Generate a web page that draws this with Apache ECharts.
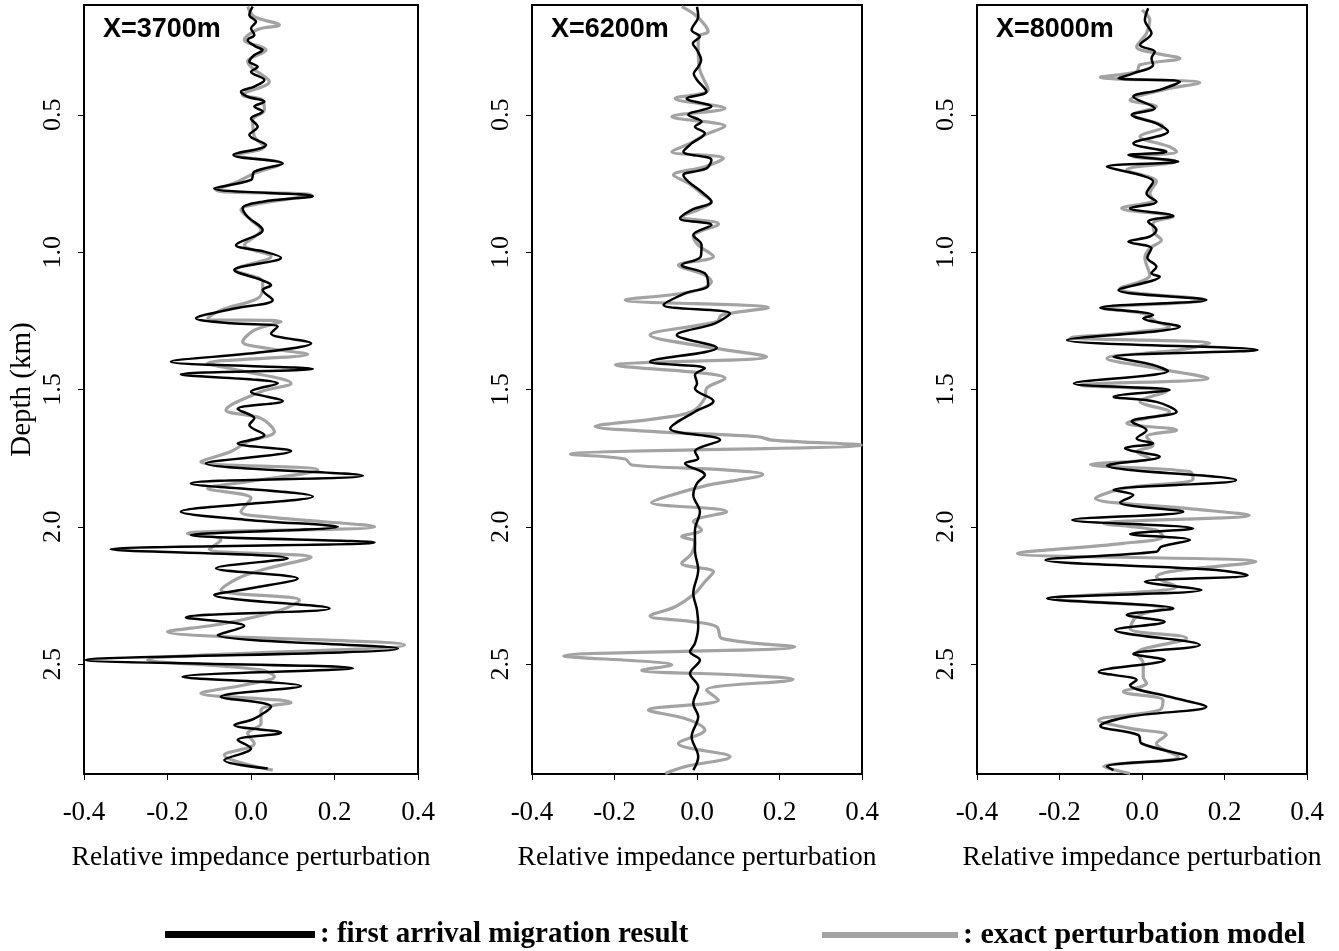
<!DOCTYPE html>
<html>
<head>
<meta charset="utf-8">
<script src="https://cdn.jsdelivr.net/npm/echarts@6/dist/echarts.min.js"></script>
<style>
html,body{margin:0;padding:0;background:#fff;}
#chart{width:1339px;height:951px;}
</style>
</head>
<body>
<div id="chart"></div>
<script>
// ---- data: [relative impedance perturbation, depth km] ----
const panelTitles = ['X=3700m', 'X=6200m', 'X=8000m'];
const xTicks = [-0.4, -0.2, 0.0, 0.2, 0.4];
const depthTicks = [0.5, 1.0, 1.5, 2.0, 2.5];
const nameMigration = 'first arrival migration result';
const nameExact = 'exact perturbation model';

const p1Black = [[0.004,0.106],[-0.004,0.136],[0.012,0.161],[0.0,0.185],[0.008,0.209],[-0.008,0.227],[0.012,0.252],[0.028,0.264],[0.008,0.282],[-0.004,0.306],[0.016,0.325],[0.0,0.343],[0.032,0.373],[0.008,0.397],[-0.024,0.416],[-0.008,0.434],[0.032,0.452],[0.008,0.470],[0.028,0.488],[0.0,0.513],[0.016,0.543],[-0.004,0.573],[0.036,0.61],[-0.042,0.646],[0.076,0.677],[0.008,0.707],[0.0,0.737],[-0.088,0.768],[0.148,0.796],[0.028,0.816],[-0.02,0.84],[-0.008,0.871],[0.028,0.919],[-0.036,0.974],[0.032,0.998],[0.072,1.02],[-0.04,1.065],[0.024,1.101],[0.048,1.12],[0.028,1.138],[0.052,1.174],[-0.04,1.205],[-0.132,1.241],[-0.048,1.259],[0.064,1.271],[0.048,1.296],[0.144,1.332],[0.04,1.362],[-0.192,1.399],[0.148,1.425],[-0.168,1.445],[0.064,1.478],[0.0,1.508],[0.076,1.542],[-0.032,1.571],[0.008,1.605],[-0.004,1.629],[0.032,1.666],[-0.032,1.696],[0.096,1.724],[-0.108,1.769],[0.268,1.814],[-0.144,1.842],[0.148,1.89],[-0.168,1.945],[-0.008,1.975],[0.208,2.0],[-0.144,2.03],[0.296,2.057],[-0.336,2.082],[0.088,2.115],[-0.084,2.151],[0.112,2.188],[0.0,2.224],[-0.088,2.248],[0.188,2.297],[-0.156,2.33],[-0.016,2.361],[-0.08,2.394],[0.352,2.443],[-0.396,2.485],[0.244,2.515],[-0.164,2.546],[0.12,2.58],[-0.072,2.619],[0.048,2.655],[0.008,2.698],[-0.04,2.722],[0.072,2.75],[-0.032,2.776],[0.0,2.807],[-0.064,2.849],[0.04,2.88]];

const p1Gray = [[-0.008,0.106],[0.008,0.142],[0.068,0.173],[0.016,0.189],[-0.016,0.227],[0.036,0.264],[-0.008,0.306],[0.004,0.331],[0.044,0.379],[-0.02,0.428],[0.028,0.446],[0.032,0.482],[0.004,0.519],[0.008,0.579],[0.032,0.616],[-0.032,0.646],[0.072,0.677],[0.008,0.713],[-0.032,0.743],[-0.084,0.774],[0.144,0.792],[0.024,0.822],[-0.024,0.846],[0.0,0.883],[0.024,0.919],[-0.016,0.974],[0.048,1.016],[-0.036,1.065],[0.028,1.107],[0.028,1.132],[0.016,1.168],[-0.072,1.211],[-0.104,1.241],[0.072,1.253],[0.008,1.284],[-0.02,1.326],[0.04,1.35],[0.136,1.372],[-0.104,1.405],[-0.032,1.429],[0.096,1.478],[0.024,1.508],[-0.06,1.575],[0.024,1.605],[0.056,1.654],[-0.008,1.69],[-0.048,1.726],[-0.12,1.763],[0.16,1.793],[-0.008,1.836],[-0.104,1.86],[0.0,1.896],[-0.024,1.945],[0.032,1.963],[0.296,2.0],[-0.152,2.024],[-0.072,2.048],[-0.1,2.082],[0.144,2.111],[0.04,2.151],[-0.032,2.188],[-0.072,2.23],[0.116,2.267],[0.072,2.303],[-0.064,2.352],[-0.2,2.382],[0.368,2.43],[-0.248,2.485],[0.024,2.521],[0.056,2.546],[-0.016,2.576],[-0.12,2.606],[0.096,2.64],[0.024,2.667],[0.024,2.716],[-0.008,2.752],[0.008,2.789],[-0.064,2.831],[0.052,2.886]];

const p2Black = [[0.0,0.106],[0.003,0.142],[-0.013,0.191],[0.007,0.215],[-0.01,0.24],[0.0,0.264],[0.01,0.3],[0.003,0.325],[-0.008,0.35],[0.0,0.373],[0.023,0.416],[-0.025,0.44],[0.035,0.47],[-0.021,0.5],[0.011,0.525],[-0.005,0.543],[0.019,0.567],[-0.013,0.604],[-0.033,0.634],[0.035,0.664],[0.023,0.695],[-0.033,0.719],[-0.021,0.743],[0.011,0.78],[0.035,0.816],[-0.013,0.846],[-0.041,0.877],[0.035,0.901],[-0.009,0.937],[0.011,0.974],[0.009,1.016],[-0.037,1.047],[0.019,1.077],[0.027,1.12],[-0.029,1.15],[-0.081,1.192],[0.08,1.223],[0.044,1.259],[-0.049,1.302],[0.048,1.348],[-0.114,1.399],[0.019,1.423],[-0.005,1.447],[0.0,1.478],[-0.005,1.496],[0.04,1.542],[-0.005,1.581],[-0.065,1.642],[0.056,1.684],[-0.005,1.726],[0.003,1.751],[-0.029,1.769],[0.019,1.811],[0.0,1.842],[-0.009,1.884],[0.007,1.945],[-0.005,2.012],[-0.005,2.085],[0.003,2.157],[-0.009,2.242],[0.0,2.303],[0.003,2.364],[-0.005,2.424],[-0.017,2.455],[0.007,2.485],[-0.017,2.534],[0.003,2.582],[-0.009,2.643],[0.003,2.691],[-0.013,2.764],[0.003,2.837],[-0.009,2.886]];

const p2Gray = [[-0.037,0.106],[0.0,0.142],[0.027,0.197],[0.003,0.215],[0.003,0.264],[0.007,0.337],[0.027,0.409],[-0.053,0.44],[0.068,0.476],[-0.061,0.507],[0.068,0.541],[0.019,0.573],[-0.017,0.604],[-0.061,0.634],[0.064,0.658],[0.019,0.689],[-0.057,0.719],[-0.021,0.749],[0.011,0.786],[0.035,0.816],[0.003,0.846],[-0.037,0.871],[0.052,0.897],[-0.009,0.943],[0.003,0.974],[0.04,1.016],[-0.045,1.047],[0.019,1.083],[0.035,1.107],[-0.013,1.144],[-0.174,1.174],[0.173,1.202],[0.06,1.229],[0.048,1.253],[-0.114,1.302],[0.019,1.344],[0.169,1.381],[-0.198,1.411],[0.019,1.441],[0.068,1.459],[0.023,1.496],[0.019,1.532],[-0.013,1.581],[-0.094,1.605],[-0.247,1.635],[-0.094,1.654],[0.148,1.672],[0.181,1.684],[0.398,1.702],[-0.307,1.736],[-0.174,1.753],[-0.158,1.775],[0.068,1.793],[0.16,1.809],[0.027,1.848],[-0.061,1.884],[-0.11,1.911],[0.072,1.945],[-0.009,1.981],[0.011,2.012],[-0.037,2.036],[-0.005,2.054],[-0.013,2.097],[-0.037,2.133],[0.04,2.164],[0.019,2.2],[-0.005,2.242],[-0.053,2.291],[-0.114,2.325],[-0.013,2.345],[0.048,2.364],[0.06,2.406],[0.237,2.437],[-0.323,2.47],[-0.061,2.503],[-0.134,2.522],[0.108,2.54],[0.233,2.556],[0.023,2.594],[0.052,2.631],[-0.118,2.667],[-0.029,2.698],[0.019,2.74],[-0.045,2.789],[0.08,2.837],[-0.029,2.873],[-0.077,2.898]];

const p3Black = [[0.015,0.112],[0.007,0.155],[0.023,0.203],[-0.005,0.246],[0.031,0.27],[0.023,0.294],[0.027,0.318],[-0.021,0.349],[-0.057,0.367],[0.092,0.379],[0.043,0.409],[-0.021,0.434],[0.031,0.476],[-0.025,0.5],[0.035,0.531],[0.063,0.561],[-0.021,0.604],[0.059,0.634],[-0.033,0.646],[0.088,0.67],[-0.085,0.689],[-0.005,0.719],[0.027,0.743],[0.011,0.786],[0.035,0.816],[-0.029,0.84],[0.076,0.868],[0.015,0.889],[0.035,0.919],[0.019,0.943],[-0.033,0.962],[0.023,0.986],[0.013,1.02],[0.035,1.053],[0.023,1.077],[0.043,1.089],[-0.057,1.138],[0.156,1.174],[-0.101,1.202],[0.027,1.229],[0.003,1.241],[0.092,1.271],[-0.182,1.32],[0.28,1.356],[-0.069,1.381],[0.027,1.411],[0.063,1.433],[-0.165,1.478],[0.067,1.502],[-0.069,1.526],[0.035,1.545],[0.084,1.581],[-0.025,1.617],[0.011,1.648],[-0.013,1.678],[0.027,1.696],[-0.041,1.714],[0.043,1.745],[-0.085,1.777],[0.228,1.83],[-0.069,1.866],[-0.021,1.884],[-0.053,1.911],[0.1,1.945],[-0.169,1.975],[0.124,2.006],[-0.029,2.026],[0.116,2.048],[0.047,2.072],[0.035,2.091],[-0.234,2.121],[0.18,2.157],[0.256,2.176],[0.007,2.2],[0.144,2.23],[-0.23,2.261],[0.076,2.297],[-0.037,2.321],[0.055,2.346],[-0.065,2.376],[0.14,2.43],[-0.021,2.463],[0.055,2.485],[-0.105,2.528],[-0.013,2.558],[-0.029,2.576],[0.067,2.619],[0.156,2.655],[-0.029,2.691],[-0.101,2.725],[-0.009,2.758],[-0.001,2.789],[0.108,2.837],[-0.085,2.873],[-0.069,2.886]];

const p3Gray = [[0.0,0.118],[0.019,0.155],[0.011,0.203],[-0.013,0.252],[0.035,0.276],[0.092,0.294],[-0.005,0.318],[-0.013,0.343],[-0.101,0.363],[0.14,0.383],[0.051,0.409],[-0.029,0.446],[0.035,0.47],[-0.021,0.5],[0.051,0.543],[-0.005,0.579],[0.067,0.616],[0.084,0.634],[-0.021,0.652],[0.084,0.67],[-0.037,0.701],[0.035,0.743],[0.019,0.786],[0.027,0.81],[-0.049,0.84],[0.076,0.871],[0.027,0.895],[0.031,0.931],[0.047,0.956],[0.019,0.986],[0.007,1.02],[0.019,1.083],[-0.053,1.132],[0.148,1.174],[-0.093,1.205],[0.003,1.223],[0.035,1.253],[0.067,1.271],[-0.053,1.296],[-0.173,1.311],[0.164,1.332],[0.092,1.356],[-0.085,1.387],[0.035,1.423],[0.16,1.459],[-0.149,1.484],[0.059,1.508],[-0.005,1.544],[0.067,1.581],[-0.037,1.623],[0.084,1.648],[0.011,1.672],[0.027,1.702],[-0.013,1.726],[0.019,1.751],[-0.125,1.773],[0.116,1.799],[0.124,1.826],[-0.045,1.86],[-0.113,1.896],[0.108,1.933],[0.26,1.958],[-0.093,1.988],[0.035,2.012],[0.051,2.036],[-0.045,2.06],[-0.302,2.097],[0.276,2.127],[0.067,2.163],[0.035,2.182],[0.084,2.218],[-0.205,2.261],[0.051,2.297],[-0.013,2.327],[-0.029,2.37],[0.108,2.406],[-0.013,2.461],[0.003,2.497],[0.003,2.546],[0.011,2.57],[-0.045,2.6],[0.051,2.631],[0.043,2.667],[-0.105,2.704],[-0.029,2.734],[0.059,2.758],[0.035,2.789],[0.088,2.837],[-0.093,2.873],[-0.029,2.898]];

const blackSeries = [p1Black, p2Black, p3Black];
const graySeries = [p1Gray, p2Gray, p3Gray];

// ---- layout / style ----
const SERIF = "'Liberation Serif', 'Times New Roman', serif";
const SANS = "'Liberation Sans', Arial, sans-serif";
const grids = [
  {left: 84, top: 5, width: 334, height: 769},
  {left: 532, top: 5, width: 330, height: 769},
  {left: 977, top: 5, width: 330, height: 769}
];
const BLACK = '#000000';
const GRAY = '#a3a3a3';
const fmt = v => (Math.abs(v) < 1e-9 ? '0.0' : v.toFixed(1));

const option = {
  animation: false,
  backgroundColor: '#ffffff',
  title: panelTitles.map((t, i) => ({
    text: t,
    left: grids[i].left + 19,
    top: 16,
    padding: 0,
    textStyle: {fontFamily: SANS, fontWeight: 'bold', fontSize: 27, color: '#000'}
  })),
  legend: [
    {
      data: [nameMigration], left: 165, top: 920, padding: 0,
      icon: 'rect', itemWidth: 150, itemHeight: 7, selectedMode: false,
      formatter: ': {name}',
      itemStyle: {color: BLACK, borderWidth: 0},
      textStyle: {fontFamily: SERIF, fontWeight: 'bold', fontSize: 29, color: '#000'}
    },
    {
      data: [nameExact], left: 822, top: 920, padding: 0,
      icon: 'rect', itemWidth: 136, itemHeight: 6, selectedMode: false,
      formatter: ': {name}',
      itemStyle: {color: GRAY, borderWidth: 0},
      textStyle: {fontFamily: SERIF, fontWeight: 'bold', fontSize: 30, color: '#000'}
    }
  ],
  grid: grids.map(g => Object.assign({show: true, borderColor: '#000', borderWidth: 2, backgroundColor: 'transparent', containLabel: false}, g)),
  xAxis: grids.map((g, i) => ({
    type: 'value', gridIndex: i, min: -0.4, max: 0.4, interval: 0.2,
    position: 'bottom',
    axisLine: {show: true, onZero: false, lineStyle: {color: '#000', width: 2}},
    axisTick: {show: true, length: 6, lineStyle: {color: '#000', width: 1}},
    splitLine: {show: false},
    axisLabel: {color: '#000', fontFamily: SERIF, fontSize: 27, margin: 25, formatter: fmt},
    name: 'Relative impedance perturbation',
    nameLocation: 'middle', nameGap: 70,
    nameTextStyle: {color: '#000', fontFamily: SERIF, fontSize: 27.5}
  })),
  yAxis: grids.map((g, i) => ({
    type: 'value', gridIndex: i, inverse: true, min: 0.1, max: 2.9,
    position: 'left',
    axisLine: {show: true, onZero: false, lineStyle: {color: '#000', width: 2}},
    axisTick: {show: true, length: 6, customValues: depthTicks, lineStyle: {color: '#000', width: 1}},
    splitLine: {show: false},
    axisLabel: {color: '#000', fontFamily: SERIF, fontSize: 26, margin: 18, rotate: 90, customValues: depthTicks, formatter: fmt},
    name: i === 0 ? 'Depth (km)' : '',
    nameLocation: 'middle', nameGap: 47, nameRotate: 90,
    nameTextStyle: {color: '#000', fontFamily: SERIF, fontSize: 29}
  })),
  series: []
};

for (let i = 0; i < 3; i++) {
  option.series.push({
    type: 'line', name: nameExact, xAxisIndex: i, yAxisIndex: i,
    data: graySeries[i], showSymbol: false, symbol: 'none', smooth: 0.35, clip: true,
    lineStyle: {color: GRAY, width: 3.2}, itemStyle: {color: GRAY}, z: 2
  });
  option.series.push({
    type: 'line', name: nameMigration, xAxisIndex: i, yAxisIndex: i,
    data: blackSeries[i], showSymbol: false, symbol: 'none', smooth: 0.35, clip: true,
    lineStyle: {color: BLACK, width: 2.5}, itemStyle: {color: BLACK}, z: 3
  });
}

const chart = echarts.init(document.getElementById('chart'), null, {renderer: 'canvas'});
chart.setOption(option);
</script>
</body>
</html>
